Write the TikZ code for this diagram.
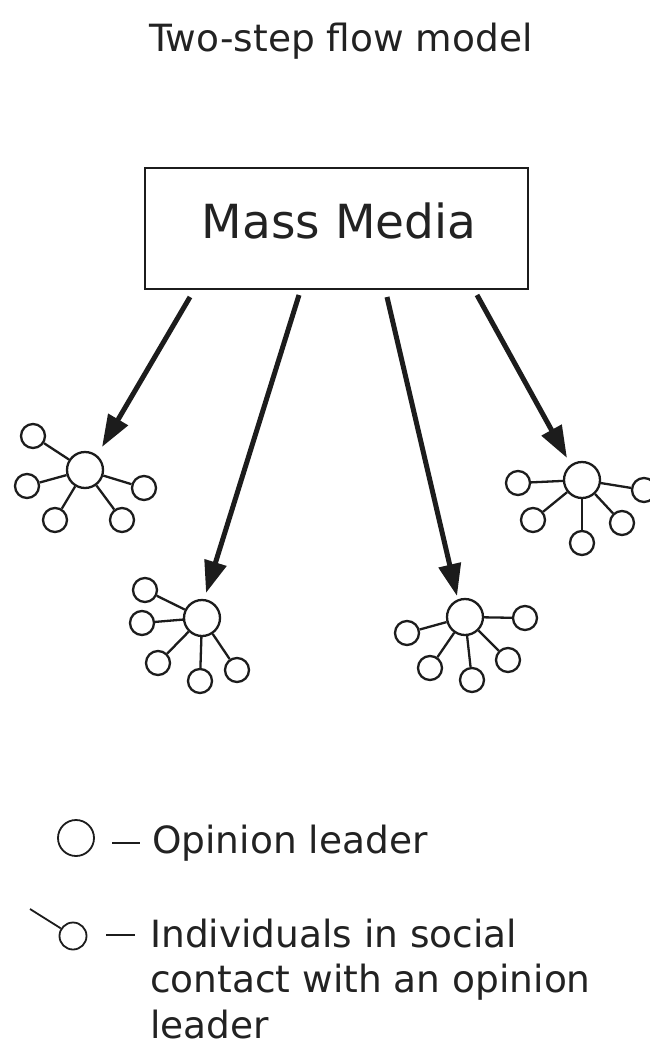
\documentclass[tikz,border=0pt]{standalone}
\usepackage{fontspec}
\setmainfont{DejaVu Sans}
\usetikzlibrary{arrows.meta}
\definecolor{ink}{HTML}{1C1C1C}
\definecolor{txt}{HTML}{222222}
\begin{document}
\begin{tikzpicture}[x=1pt,y=-1pt,
  leader/.style={circle,draw=ink,line width=2.3pt,minimum size=36pt,inner sep=0pt},
  member/.style={circle,draw=ink,line width=2.3pt,minimum size=24pt,inner sep=0pt},
  tie/.style={draw=ink,line width=2.3pt},
  flow/.style={draw=ink,line width=5pt,-{Triangle[length=32pt,width=22pt]}},
  lbl/.style={text=txt,inner sep=0pt,font=\fontsize{37.5}{45}\selectfont},
  legline/.style={draw=ink,line width=1.8pt}]
\fill[white] (0,0) rectangle (650,1052);
\path[use as bounding box] (0,0) rectangle (650,1052);
\clip (0,0) rectangle (650,1052);

% title
\node[lbl,anchor=base] (title) at (341,51) {Two-step flow model};

% mass media box
\node[draw=ink,line width=2pt,minimum width=383pt,minimum height=121pt,inner sep=0pt] (media) at (336.5,228.5) {};
\node[text=txt,inner sep=0pt,anchor=base,font=\fontsize{47}{56}\selectfont] (medialabel) at (339,238) {Mass Media};

% arrow coordinates
\coordinate (s1) at (190,297); \coordinate (t1) at (102,447);
\coordinate (s2) at (299,295); \coordinate (t2) at (206,593);
\coordinate (s3) at (387,297); \coordinate (t3) at (457,596);
\coordinate (s4) at (477,295); \coordinate (t4) at (567,458);
\draw[flow] (s1) -- (t1);
\draw[flow] (s2) -- (t2);
\draw[flow] (s3) -- (t3);
\draw[flow] (s4) -- (t4);

% cluster 1
\node[leader] (c1) at (85,470) {};
\node[member] (c1a) at (33,436) {};
\node[member] (c1b) at (27,486) {};
\node[member] (c1c) at (144,488) {};
\node[member] (c1d) at (55,520) {};
\node[member] (c1e) at (122,520) {};
\foreach \m in {a,b,c,d,e} \draw[tie] (c1) -- (c1\m);

% cluster 2
\node[leader] (c2) at (202,618) {};
\node[member] (c2a) at (145,590) {};
\node[member] (c2b) at (142,623) {};
\node[member] (c2c) at (158,663) {};
\node[member] (c2d) at (200,681) {};
\node[member] (c2e) at (237,670) {};
\foreach \m in {a,b,c,d,e} \draw[tie] (c2) -- (c2\m);

% cluster 3
\node[leader] (c3) at (465,617) {};
\node[member] (c3a) at (407,633) {};
\node[member] (c3b) at (430,668) {};
\node[member] (c3c) at (472,680) {};
\node[member] (c3d) at (508,660) {};
\node[member] (c3e) at (525,618) {};
\foreach \m in {a,b,c,d,e} \draw[tie] (c3) -- (c3\m);

% cluster 4
\node[leader] (c4) at (582,480) {};
\node[member] (c4a) at (518,483) {};
\node[member] (c4b) at (533,520) {};
\node[member] (c4c) at (582,543) {};
\node[member] (c4d) at (622,523) {};
\node[member] (c4e) at (644,490) {};
\foreach \m in {a,b,c,d,e} \draw[tie] (c4) -- (c4\m);

% legend
\node[circle,draw=ink,line width=1.8pt,minimum size=36pt,inner sep=0pt] (legleader) at (76,838) {};
\coordinate (d1a) at (112,843); \coordinate (d1b) at (140,843);
\draw[legline] (d1a) -- (d1b);
\node[lbl,anchor=base west] (legtext1) at (152,853) {Opinion leader};

\node[circle,draw=ink,line width=1.8pt,minimum size=27pt,inner sep=0pt] (legmember) at (73,936) {};
\coordinate (tieend) at (30,909);
\draw[legline] (tieend) -- (legmember);
\coordinate (d2a) at (106,935); \coordinate (d2b) at (135,935);
\draw[legline] (d2a) -- (d2b);
\node[lbl,anchor=base west] (legtext2) at (150,947) {Individuals in social};
\node[lbl,anchor=base west] (legtext3) at (150,992) {contact with an opinion};
\node[lbl,anchor=base west] (legtext4) at (150,1038) {leader};
\end{tikzpicture}
\end{document}
